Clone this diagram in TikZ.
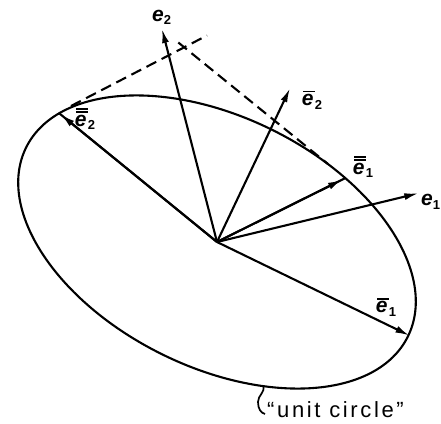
\documentclass[tikz,border=0pt]{standalone}
\usepackage{fontspec}
\setmainfont{Liberation Sans}
\usetikzlibrary{arrows.meta}
\newcommand\sub[1]{\raisebox{-3.5pt}{\fontsize{13}{13}\selectfont #1}}
\newcommand\obar[1]{\setbox0\hbox{#1}\vbox{\offinterlineskip\hbox{\kern1.5pt\rule{\wd0}{1.8pt}}\kern2pt\box0}}
\newcommand\oobar[1]{\setbox0\hbox{#1}\vbox{\offinterlineskip\hbox{\kern1.5pt\rule{\wd0}{1.6pt}}\kern1.4pt\hbox{\kern1.5pt\rule{\wd0}{1.6pt}}\kern2pt\box0}}
\begin{document}
\begin{tikzpicture}[x=1pt,y=1pt,
  ln/.style={line width=2.1pt},
  vec/.style={line width=2.1pt,-{Latex[length=14pt,width=7pt]}},
  dsh/.style={line width=2.1pt,dash pattern=on 11pt off 6pt},
  lab/.style={inner sep=0pt,font=\fontsize{21}{21}\selectfont\bfseries}]
\useasboundingbox (-217,-181) rectangle (224,242);
\coordinate (O) at (0,0);
\coordinate (E1) at (201.3,48.7);
\coordinate (E2) at (-55,213);
\coordinate (B1) at (192.4,-93.5);
\coordinate (B2) at (73,153.7);
\coordinate (BB1) at (128.5,64);
\coordinate (BB2) at (-158.4,129.2);
\coordinate (D1a) at (-146,136);
\coordinate (D1b) at (-10,206.5);
\coordinate (D2a) at (-38.7,199.5);
\coordinate (D2b) at (111,78);
\coordinate (S0) at (46.3,-144);
\coordinate (S1) at (41,-160);
\coordinate (S2) at (48,-172);
% unit circle
\draw[ln,rotate around={-26.35:(O)}] (O) ellipse (213 and 125);
% dashed tangents
\draw[dsh] (D1a) -- (D1b);
\draw[dsh] (D2a) -- (D2b);
% vectors
\draw[vec] (O) -- (E1);
\draw[vec] (O) -- (E2);
\draw[vec] (O) -- (B1);
\draw[vec] (O) -- (B2);
\draw[ln] (O) -- (BB1);
\draw[vec,shorten >=4pt] (O) -- (BB1);
\draw[ln] (O) -- (BB2);
\draw[vec,shorten >=3pt] (O) -- (BB2);
% squiggle
\draw[line width=1.7pt] (S0) .. controls (48,-151) and (41,-153) .. (S1) .. controls (41,-167) and (44,-171) .. (S2);
% labels
\node[lab] (lE2) at (-55.3,224.7) {\textit{e}\sub{2}};
\node[lab] (lB2) at (95,142) {\obar{\textit{e}}\sub{2}};
\node[lab] (lBB2) at (-132,123) {\oobar{\textit{e}}\sub{2}};
\node[lab] (lBB1) at (146,75) {\oobar{\textit{e}}\sub{1}};
\node[lab,anchor=west] (lE1) at (204,40) {\textit{e}\sub{1}};
\node[lab] (lB1) at (169,-65) {\obar{\textit{e}}\sub{1}};
\node[lab,anchor=base west,font=\fontsize{22}{22}\selectfont] (uc) at (50,-175) {\addfontfeatures{LetterSpace=12}“unit circle”};
\end{tikzpicture}
\end{document}
